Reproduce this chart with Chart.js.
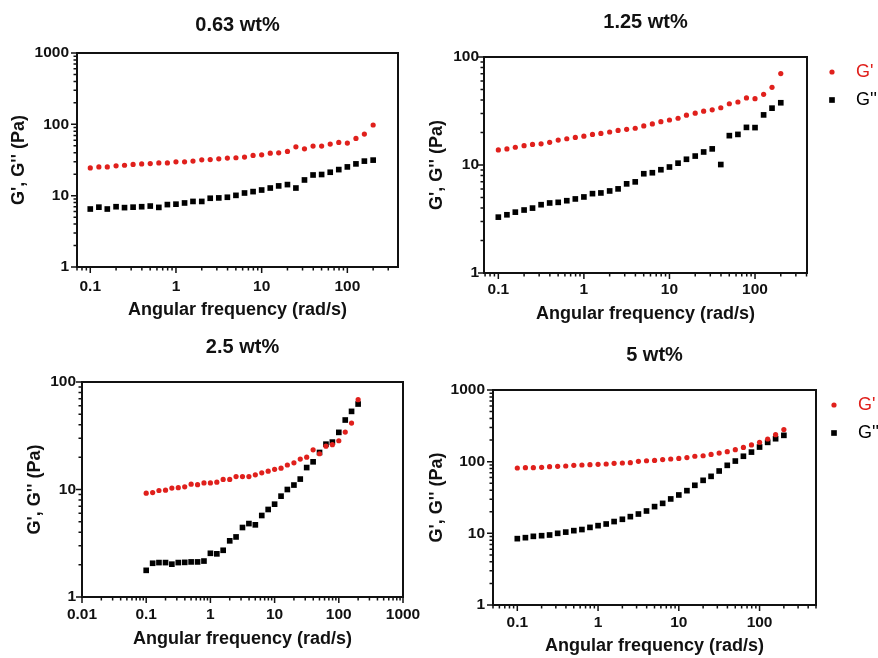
<!DOCTYPE html>
<html lang="en">
<head>
<meta charset="UTF-8">
<title>G', G'' vs angular frequency</title>
<script src="https://cdn.jsdelivr.net/npm/chart.js"></script>
<style>
  html, body { margin: 0; padding: 0; background: #fff; overflow: hidden; }
  canvas { position: absolute; }
</style>
</head>
<body>
<canvas id="c1" width="425" height="330" style="left:0;top:0"></canvas>
<canvas id="c2" width="453" height="330" style="left:425px;top:0"></canvas>
<canvas id="c3" width="440" height="328" style="left:0;top:330px"></canvas>
<canvas id="c4" width="453" height="328" style="left:425px;top:330px"></canvas>
<script>
// angular frequency (rad/s), 10 points per decade
const freq = [0.1, 0.126, 0.158, 0.2, 0.251, 0.316, 0.398, 0.501, 0.631, 0.794,
              1, 1.26, 1.58, 2, 2.51, 3.16, 3.98, 5.01, 6.31, 7.94,
              10, 12.6, 15.8, 20, 25.1, 31.6, 39.8, 50.1, 63.1, 79.4,
              100, 126, 158, 200];

// 0.63 wt%
const gp063 = [24.5, 25.3, 25.3, 26.2, 26.7, 27.4, 27.9, 28.2, 28.8, 28.8,
               29.8, 29.8, 30.5, 31.8, 32.1, 32.8, 33.6, 34.0, 34.7, 36.6,
               37.4, 39.4, 39.9, 41.7, 48.4, 45.4, 49.5, 49.5, 52.8, 55.7,
               54.6, 63.5, 73.1, 97.9];
const gpp063 = [6.5, 6.9, 6.5, 7.0, 6.8, 6.9, 7.0, 7.15, 6.85, 7.5,
                7.6, 7.9, 8.3, 8.3, 9.2, 9.3, 9.5, 10.1, 10.9, 11.4,
                12.0, 12.8, 13.7, 14.3, 12.8, 16.6, 19.5, 19.8, 21.3, 23.2,
                25.3, 27.9, 30.5, 31.5];
// 1.25 wt%
const gp125 = [13.8, 14.1, 14.6, 15.1, 15.5, 15.7, 16.2, 17.0, 17.5, 18.0,
               18.5, 19.2, 19.6, 20.2, 20.9, 21.4, 21.9, 23.0, 24.0, 25.2,
               26.1, 27.1, 28.9, 30.2, 31.5, 32.4, 33.9, 36.9, 38.3, 41.8,
               41.1, 45.1, 52.4, 70.3];
const gpp125 = [3.29, 3.46, 3.66, 3.83, 3.99, 4.29, 4.45, 4.51, 4.67, 4.85,
                5.06, 5.43, 5.51, 5.75, 6.01, 6.69, 6.98, 8.30, 8.48, 9.04,
                9.58, 10.4, 11.3, 12.1, 13.2, 14.1, 10.1, 18.7, 19.2, 22.3,
                22.2, 29.1, 33.6, 37.7];
// 2.5 wt%
const gp25 = [9.24, 9.37, 9.79, 9.86, 10.3, 10.4, 10.6, 11.2, 11.1, 11.5,
              11.5, 11.7, 12.4, 12.4, 13.2, 13.2, 13.2, 13.7, 14.3, 14.8,
              15.4, 15.8, 16.9, 17.7, 19.2, 20.0, 23.4, 21.5, 25.3, 26.1,
              28.4, 34.2, 41.5, 68.5];
const gpp25 = [1.77, 2.06, 2.09, 2.09, 2.02, 2.09, 2.10, 2.12, 2.12, 2.16,
               2.55, 2.52, 2.72, 3.33, 3.62, 4.43, 4.82, 4.69, 5.73, 6.52,
               7.30, 8.67, 10.0, 11.0, 12.5, 16.0, 18.1, 22.1, 26.4, 27.6,
               34.0, 44.3, 53.3, 62.4];
// 5 wt%
const gp5 = [81.6, 82.4, 82.4, 83.4, 85.1, 86.1, 87.0, 88.9, 89.8, 90.8,
             91.8, 92.8, 94.8, 95.8, 96.8, 101, 103, 104, 107, 109,
             111, 114, 119, 121, 126, 132, 138, 147, 158, 171,
             186, 207, 238, 280];
const gpp5 = [8.43, 8.70, 9.08, 9.27, 9.48, 10.0, 10.4, 10.9, 11.3, 12.1,
              12.8, 13.5, 14.6, 15.7, 17.1, 18.6, 20.5, 23.6, 26.2, 30.2,
              34.3, 39.4, 46.8, 54.9, 62.4, 74.1, 88.9, 102, 119, 136,
              160, 186, 209, 233];

// tick labels
const xLabels = [0.1, 1, 10, 100];
const xLabelsWide = [0.01, 0.1, 1, 10, 100, 1000];
const yLabels1000 = [1, 10, 100, 1000];
const yLabels100 = [1, 10, 100];

const RED = '#e0201c';
const INK = '#111';
Chart.defaults.font.family = "'Liberation Sans', Arial, sans-serif";
Chart.defaults.color = INK;

const pairs = vals => freq.map((f, i) => ({ x: f, y: vals[i] }));

// 1..9 x 10^n ticks inside [min, max], labelled ones are major
function logTicks(min, max, labels) {
  const out = [];
  for (let e = Math.floor(Math.log10(min)); e <= Math.ceil(Math.log10(max)); e++) {
    for (let m = 1; m <= 9; m++) {
      const v = +(m * Math.pow(10, e)).toPrecision(4);
      if (v >= min * 0.999 && v <= max * 1.001) out.push({ value: v, major: labels.includes(v) });
    }
  }
  return out;
}

// box around the plot, outward tick marks, legend beside the plot
const framePlugin = {
  id: 'frame',
  afterDraw(chart, args, opts) {
    const { ctx, chartArea: a, scales } = chart;
    ctx.save();
    ctx.strokeStyle = INK;
    ctx.lineWidth = 1.5;
    ctx.beginPath();
    scales.x.ticks.forEach(t => {
      const px = scales.x.getPixelForValue(t.value);
      ctx.moveTo(px, a.bottom);
      ctx.lineTo(px, a.bottom + (t.major ? 6 : 3.5));
    });
    scales.y.ticks.forEach(t => {
      const py = scales.y.getPixelForValue(t.value);
      ctx.moveTo(a.left, py);
      ctx.lineTo(a.left - (t.major ? 6 : 3.5), py);
    });
    ctx.stroke();
    ctx.lineWidth = 2;
    ctx.strokeRect(a.left, a.top, a.right - a.left, a.bottom - a.top);

    if (opts.legend) {
      const lg = opts.legend;
      ctx.font = "18px 'Liberation Sans', Arial, sans-serif";
      ctx.textBaseline = 'middle';
      ctx.textAlign = 'left';
      chart.data.datasets.forEach((ds, i) => {
        const x = a.right + lg.dx;
        const y = a.top + lg.dy + i * lg.gap;
        ctx.fillStyle = ds.backgroundColor;
        Chart.helpers.drawPoint(ctx, { pointStyle: ds.pointStyle, radius: ds.pointRadius, rotation: 0, borderWidth: 0 }, x, y);
        ctx.fillText(ds.label, x + 24, y);
      });
    }
    ctx.restore();
  }
};

function makePanel(id, p) {
  new Chart(document.getElementById(id), {
    type: 'scatter',
    data: {
      datasets: [
        { label: "G'", data: pairs(p.gp), pointStyle: 'circle', pointRadius: 2.6,
          backgroundColor: RED, borderWidth: 0 },
        { label: "G''", data: pairs(p.gpp), pointStyle: 'rect', pointRadius: 4,
          backgroundColor: '#000', borderWidth: 0 }
      ]
    },
    options: {
      responsive: false,
      animation: false,
      layout: { padding: { left: 0, top: 0, right: p.padRight, bottom: p.padBottom } },
      plugins: {
        legend: { display: false },
        tooltip: { enabled: false },
        title: {
          display: true, text: p.title, fullSize: false, color: INK,
          font: { size: 20, weight: 'bold' },
          padding: { top: p.titleTop, bottom: p.titleBottom }
        },
        frame: { legend: p.legend }
      },
      scales: {
        x: {
          type: 'logarithmic', min: p.xMin, max: p.xMax,
          grid: { display: false, drawTicks: false },
          border: { display: false },
          afterBuildTicks: s => { s.ticks = logTicks(s.min, s.max, p.xLabels); },
          afterFit: s => { s.height = p.xAxisH; },
          ticks: {
            autoSkip: false, maxRotation: 0, minRotation: 0, padding: p.xTickPad,
            font: { size: 15.5, weight: 'bold' },
            callback: v => p.xLabels.includes(v) ? String(v) : ''
          },
          title: {
            display: true, text: 'Angular frequency (rad/s)',
            font: { size: 18, weight: 'bold' }, padding: { top: 0, bottom: p.xTitlePad }
          }
        },
        y: {
          type: 'logarithmic', min: 1, max: p.yMax,
          grid: { display: false, drawTicks: false },
          border: { display: false },
          afterBuildTicks: s => { s.ticks = logTicks(s.min, s.max, p.yLabels); },
          afterFit: s => { s.width = p.yAxisW; },
          ticks: {
            autoSkip: false, padding: p.yTickPad,
            font: { size: 15.5, weight: 'bold' },
            callback: v => p.yLabels.includes(v) ? String(v) : ''
          },
          title: {
            display: true, text: "G', G'' (Pa)",
            font: { size: 18, weight: 'bold' }, padding: { top: p.yTitlePad, bottom: 0 }
          }
        }
      }
    },
    plugins: [framePlugin]
  });
}

makePanel('c1', {
  title: '0.63 wt%', gp: gp063, gpp: gpp063,
  xMin: 0.07, xMax: 390, xLabels: xLabels, yMax: 1000, yLabels: yLabels1000,
  padRight: 27, padBottom: 7, titleTop: 13, titleBottom: 16,
  xAxisH: 56, xTickPad: 10, xTitlePad: 2, yAxisW: 77, yTickPad: 8, yTitlePad: 8
});
makePanel('c2', {
  title: '1.25 wt%', gp: gp125, gpp: gpp125,
  xMin: 0.068, xMax: 405, xLabels: xLabels, yMax: 100, yLabels: yLabels100,
  padRight: 71, padBottom: 3, titleTop: 10, titleBottom: 23,
  xAxisH: 54, xTickPad: 7, xTitlePad: 2, yAxisW: 59, yTickPad: 5, yTitlePad: 1,
  legend: { dx: 25, dy: 15, gap: 28 }
});
makePanel('c3', {
  title: '2.5 wt%', gp: gp25, gpp: gpp25,
  xMin: 0.01, xMax: 1000, xLabels: xLabelsWide, yMax: 100, yLabels: yLabels100,
  padRight: 37, padBottom: 6, titleTop: 5, titleBottom: 23,
  xAxisH: 55, xTickPad: 8, xTitlePad: 2, yAxisW: 82, yTickPad: 6, yTitlePad: 24
});
makePanel('c4', {
  title: '5 wt%', gp: gp5, gpp: gpp5,
  xMin: 0.05, xMax: 500, xLabels: xLabels, yMax: 1000, yLabels: yLabels1000,
  padRight: 62, padBottom: 0, titleTop: 13, titleBottom: 23,
  xAxisH: 53, xTickPad: 8, xTitlePad: 1, yAxisW: 68, yTickPad: 8, yTitlePad: 1,
  legend: { dx: 18, dy: 15, gap: 28 }
});
</script>
</body>
</html>
